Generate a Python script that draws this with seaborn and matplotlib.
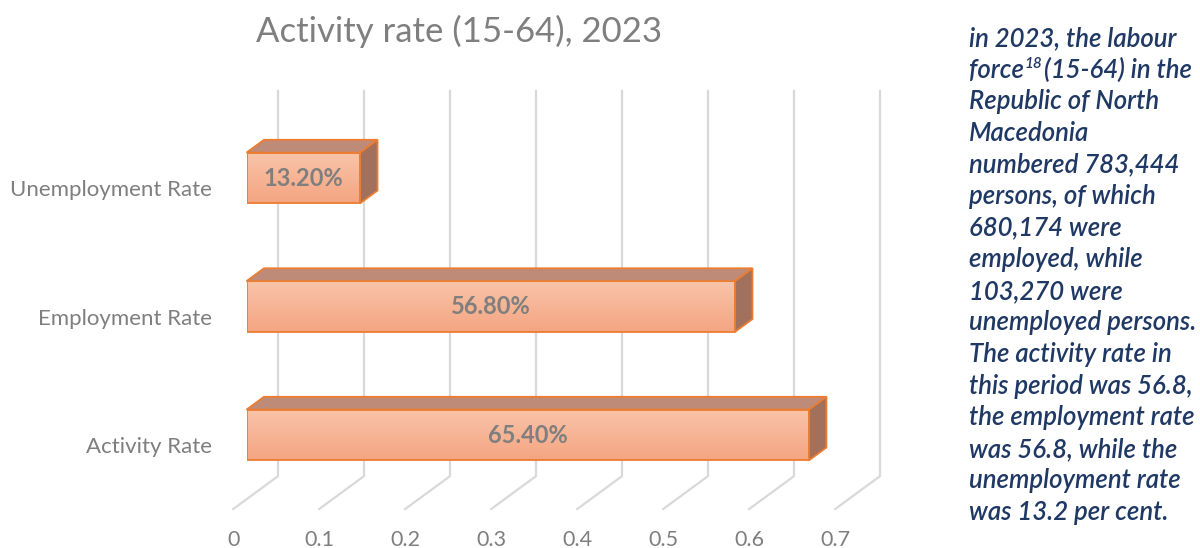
import numpy as np
import pandas as pd
import matplotlib
matplotlib.use("Agg")
import matplotlib.pyplot as plt
import seaborn as sns
from matplotlib.patches import Polygon
from matplotlib.lines import Line2D
from matplotlib.transforms import IdentityTransform, offset_copy
from matplotlib.colors import LinearSegmentedColormap

# ---------------- data ----------------
categories = ["Unemployment Rate", "Employment Rate", "Activity Rate"]
rates = [0.132, 0.568, 0.654]
value_labels = ["13.20%", "56.80%", "65.40%"]
x_ticks = [0, 0.1, 0.2, 0.3, 0.4, 0.5, 0.6, 0.7]
x_tick_labels = ["0", "0.1", "0.2", "0.3", "0.4", "0.5", "0.6", "0.7"]
title = "Activity rate (15-64), 2023"
note_lines = [
    "in 2023, the labour",
    "force|18|(15-64) in the",
    "Republic of North",
    "Macedonia",
    "numbered 783,444",
    "persons, of which",
    "680,174 were",
    "employed, while",
    "103,270 were",
    "unemployed persons.",
    "The activity rate in",
    "this period was 56.8,",
    "the employment rate",
    "was 56.8, while the",
    "unemployment rate",
    "was 13.2 per cent.",
]

# ---------------- style ----------------
sns.set_theme(style="white")
plt.rcParams['font.family'] = ['Lato', 'DejaVu Sans']

EDGE = "#ED7D31"
TOP_FACE = "#BD8B77"
SIDE_FACE = "#A2715D"
GRID = "#D9D9D9"
GREY = "#7F7F7F"
NAVY = "#1F3864"

W, H, DPI = 1200, 548, 100
fig = plt.figure(figsize=(W / DPI, H / DPI), dpi=DPI)
fig.patch.set_facecolor("white")

# plane of bar front faces (pixels from top-left of image)
left_px, right_px = 246.5, 848.5
top_px, bot_px = 113.75, 499.25
ax = fig.add_axes([left_px / W, (H - bot_px) / H, (right_px - left_px) / W, (bot_px - top_px) / H])

df = pd.DataFrame({"category": categories, "rate": rates})
sns.barplot(data=df, x="rate", y="category", orient="h", width=0.395,
            color="#F6B090", saturation=1, edgecolor=EDGE, linewidth=1.3, ax=ax, zorder=4)
ax.set_xlim(0, 0.7)
ax.set_ylim(2.5, -0.5)
ax.axis("off")

# depth geometry (display pixels, y up)
def off(t):
    return np.array([-13.5 + 45.0 * t, -9.9 + 33.0 * t])

T_FRONT, T_BACK_BAR, T_WALL = 0.3, 0.3 + 17.5 / 45.0, 1.0

def D(x, y, t):
    return ax.transData.transform((x, y)) + off(t)

ymin_data, ymax_data = 2.5, -0.5
# back wall gridlines + floor lines
for v in x_ticks:
    pts = np.array([D(v, ymin_data, 0.0), D(v, ymin_data, T_WALL), D(v, ymax_data, T_WALL)])
    ln = Line2D(pts[:, 0], pts[:, 1], transform=IdentityTransform(), color=GRID, lw=1.6,
                zorder=0, clip_on=False)
    fig.add_artist(ln)

# gradient for front faces
cmap = LinearSegmentedColormap.from_list("face", ["#F9C4A8", "#F4A582"])
grad = np.linspace(0, 1, 64).reshape(-1, 1)

for i, p in enumerate(ax.patches):
    x0, w = p.get_x(), p.get_width()
    y0, h = p.get_y(), p.get_height()
    x1 = x0 + w
    y_top, y_bot = min(y0, y0 + h), max(y0, y0 + h)  # y axis inverted: smaller = higher
    p.set_facecolor("none")
    im = ax.imshow(grad, extent=(x0, x1, y_bot, y_top), aspect="auto", cmap=cmap,
                   origin="upper", zorder=3, interpolation="bilinear")
    im.set_clip_path(p)
    top = np.array([D(x0, y_top, T_FRONT), D(x1, y_top, T_FRONT),
                    D(x1, y_top, T_BACK_BAR), D(x0, y_top, T_BACK_BAR)])
    fig.add_artist(Polygon(top, closed=True, transform=IdentityTransform(),
                           facecolor=TOP_FACE, edgecolor=EDGE, lw=1.3, zorder=2))
    side = np.array([D(x1, y_top, T_FRONT), D(x1, y_top, T_BACK_BAR),
                     D(x1, y_bot, T_BACK_BAR), D(x1, y_bot, T_FRONT)])
    fig.add_artist(Polygon(side, closed=True, transform=IdentityTransform(),
                           facecolor=SIDE_FACE, edgecolor=EDGE, lw=1.3, zorder=2))

ax.set_xlim(0, 0.7)
ax.set_ylim(2.5, -0.5)

# value labels
for i, (v, lbl) in enumerate(zip(rates, value_labels)):
    ax.text(v / 2, i, lbl, ha="center", va="center", color=GREY, fontsize=17,
            fontweight="bold", zorder=6)

# category labels
cat_tr = offset_copy(ax.transData, fig=fig, x=-34.5, y=-12, units="dots")
for i, c in enumerate(categories):
    ax.text(0, i, c, transform=cat_tr, ha="right", va="center", color=GREY, fontsize=16,
            clip_on=False)

# x tick labels at the front edge of the floor
tick_tr = offset_copy(ax.transData, fig=fig, x=-13.0, y=-41, units="dots")
for v, lbl in zip(x_ticks, x_tick_labels):
    ax.text(v, ymin_data, lbl, transform=tick_tr, ha="center", va="center", color=GREY,
            fontsize=15.5, clip_on=False)

# title
fig.text(459.5 / W, 1 - 42 / H, title, ha="center", va="baseline", color=GREY, fontsize=25)

# right-hand note
renderer = fig.canvas.get_renderer()
note_x = 969
first_baseline, spacing = 46, 31.6
note_kw = dict(color=NAVY, fontsize=18.5, fontstyle="italic", fontweight="semibold", va="baseline")
for k, line in enumerate(note_lines):
    yb = 1 - (first_baseline + k * spacing) / H
    if "|" in line:
        a, sup, b = line.split("|")
        t1 = fig.text(note_x / W, yb, a, ha="left", **note_kw)
        e1 = t1.get_window_extent(renderer)
        t2 = fig.text(e1.x1 / W + 1 / W, yb + 10 / H, sup, ha="left",
                      color=NAVY, fontsize=11, fontstyle="italic", fontweight="semibold", va="baseline")
        e2 = t2.get_window_extent(renderer)
        fig.text(e2.x1 / W + 1 / W, yb, b, ha="left", **note_kw)
    else:
        fig.text(note_x / W, yb, line, ha="left", **note_kw)

fig.savefig("out.png", dpi=DPI, facecolor="white")
